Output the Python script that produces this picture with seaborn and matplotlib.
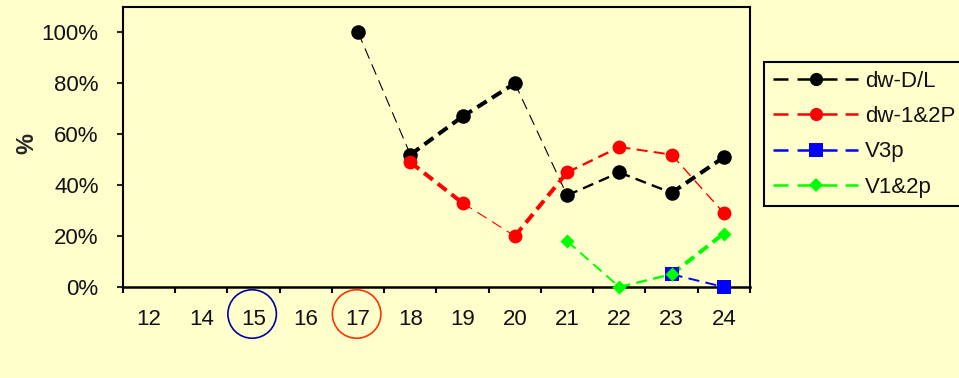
import numpy as np
import pandas as pd
import matplotlib
matplotlib.use("Agg")
import matplotlib.pyplot as plt
import seaborn as sns
from matplotlib.lines import Line2D
from matplotlib.patches import Ellipse

# ---- data -------------------------------------------------------------
categories = ["12", "14", "15", "16", "17", "18", "19", "20", "21", "22", "23", "24"]
nan = np.nan
dw_dl = [nan, nan, nan, nan, 100, 52, 67, 80, 36, 45, 37, 51]
dw_12p = [nan, nan, nan, nan, nan, 49, 33, 20, 45, 55, 52, 29]
v3p = [nan, nan, nan, nan, nan, nan, nan, nan, nan, nan, 5, 0]
v12p = [nan, nan, nan, nan, nan, nan, nan, nan, 18, 0, 5, 21]
series_names = ["dw-D/L", "dw-1&2P", "V3p", "V1&2p"]
series_values = [dw_dl, dw_12p, v3p, v12p]
highlighted = ["15", "17"]

# ---- styles -----------------------------------------------------------
BG = "#FFFFCC"
FS = 16
colors = ["#000000", "#FF0000", "#0000FF", "#00FF00"]
markers = ["o", "o", "s", "D"]
marker_sizes = [110, 100, 115, 52]
THIN, MED, THICK = 0.8, 1.7, 2.9
# line width of each segment, keyed by the index of its starting category
seg_widths = [
    {4: THIN, 5: THICK, 6: THICK, 7: THIN, 8: MED, 9: MED, 10: THICK},
    {5: THICK, 6: THIN, 7: THICK, 8: MED, 9: 1.4, 10: 1.0},
    {10: 1.4},
    {8: 1.4, 9: MED, 10: THICK},
]
highlight_colors = ["#0000A0", "#FF3300"]

sns.set_style("white")
plt.rcParams["font.family"] = ["Liberation Sans", "DejaVu Sans"]
plt.rcParams["lines.scale_dashes"] = False

fig = plt.figure(figsize=(9.59, 3.78), dpi=100, facecolor=BG)
ax = fig.add_axes([123 / 959, 1 - 287 / 378, (750 - 123) / 959, (287 - 7) / 378])
ax.set_facecolor(BG)

xs = np.arange(len(categories))
dash = (0, (8, 4.5))

for k, (name, vals) in enumerate(zip(series_names, series_values)):
    df = pd.DataFrame({"x": xs, "y": vals})
    for i, lw in seg_widths[k].items():
        seg = df.iloc[i:i + 2]
        sns.lineplot(data=seg, x="x", y="y", ax=ax, color=colors[k],
                     linewidth=lw, linestyle=dash, zorder=3 + k,
                     legend=False, sort=False)
    pts = df.dropna()
    sns.scatterplot(data=pts, x="x", y="y", ax=ax, color=colors[k],
                    marker=markers[k], s=marker_sizes[k], linewidth=0,
                    zorder=10 + k, clip_on=False, legend=False)

# axes
ax.set_xlim(-0.5, len(categories) - 0.5)
ax.set_ylim(0, 110)
ax.set_yticks([0, 20, 40, 60, 80, 100])
ax.set_yticklabels([f"{v}%" for v in [0, 20, 40, 60, 80, 100]])
ax.set_xticks(np.arange(-0.5, len(categories), 1.0))
ax.set_xticklabels([])
ax.set_xticks(xs, minor=True)
ax.set_xticklabels(categories, minor=True)
ax.tick_params(axis="x", which="major", direction="out", length=4.5, width=1.5,
               color="black", bottom=True)
ax.tick_params(axis="x", which="minor", length=0, pad=16, labelsize=FS,
               labelcolor="#111111", bottom=True)
ax.tick_params(axis="y", direction="out", length=4.5, width=1.5, pad=13,
               labelsize=FS, labelcolor="#111111", left=True)
ax.set_xlabel("")
ax.set_ylabel("")
for sp in ax.spines.values():
    sp.set_visible(True)
    sp.set_color("black")
    sp.set_linewidth(1.5)
ax.spines["bottom"].set_linewidth(1.8)

fig.text(27 / 959, 1 - 144 / 378, "%", rotation=90, fontsize=17,
         fontweight="bold", ha="center", va="center")

# circled category labels
for lab, col in zip(highlighted, highlight_colors):
    xi = categories.index(lab)
    xpix = 123 + (xi + 0.5) * (750 - 123) / len(categories) - 1.5
    fig.patches.append(Ellipse((xpix / 959, 1 - 314 / 378), 48.5 / 959, 48.5 / 378,
                               transform=fig.transFigure, fill=False,
                               edgecolor=col, linewidth=1.2))

# legend
legend_dash = (0, (10.8, 6.5, 28.8, 5.8, 11.5, 6.5))
leg_ms = [9.5, 9.5, 9.5, 7.2]
handles = [Line2D([0], [0], color=c, linewidth=1.8, linestyle=legend_dash,
                  marker=m, markersize=ms, markeredgewidth=0)
           for c, m, ms in zip(colors, markers, leg_ms)]
leg = fig.legend(handles, series_names, loc="upper left",
                 bbox_to_anchor=(764 / 959, 1 - 62 / 378), borderaxespad=0,
                 frameon=True, fancybox=False, framealpha=1, facecolor=BG,
                 edgecolor="black", fontsize=FS, handlelength=3.85,
                 handletextpad=0.3, borderpad=0.4, labelspacing=0.64)
leg.get_frame().set_linewidth(1.5)
for t in leg.get_texts():
    t.set_color("#111111")

fig.savefig("out.png", dpi=100, facecolor=BG)
